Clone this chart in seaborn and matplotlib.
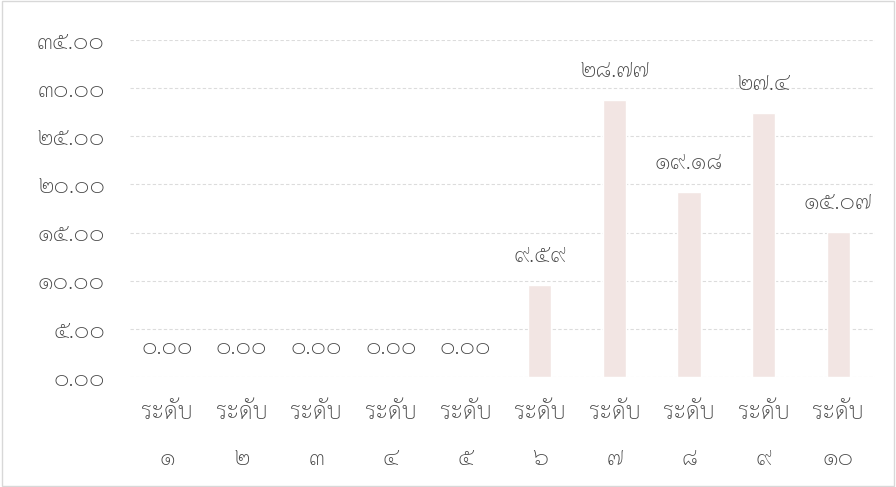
import matplotlib
matplotlib.use("Agg")
import matplotlib.pyplot as plt
import seaborn as sns
import pandas as pd

categories = ["ระดับ\n๑", "ระดับ\n๒", "ระดับ\n๓", "ระดับ\n๔", "ระดับ\n๕",
              "ระดับ\n๖", "ระดับ\n๗", "ระดับ\n๘", "ระดับ\n๙", "ระดับ\n๑๐"]
values = [0.0, 0.0, 0.0, 0.0, 0.0, 9.59, 28.77, 19.18, 27.4, 15.07]
value_labels = ["๐.๐๐", "๐.๐๐", "๐.๐๐", "๐.๐๐", "๐.๐๐",
                "๙.๕๙", "๒๘.๗๗", "๑๙.๑๘", "๒๗.๔", "๑๕.๐๗"]
y_ticks = [0, 5, 10, 15, 20, 25, 30, 35]
y_tick_labels = ["๐.๐๐", "๕.๐๐", "๑๐.๐๐", "๑๕.๐๐", "๒๐.๐๐", "๒๕.๐๐", "๓๐.๐๐", "๓๕.๐๐"]

sns.set_theme(style="white")
plt.rcParams["font.family"] = ["Sarabun", "Loma", "DejaVu Sans"]
plt.rcParams["font.weight"] = "light"

df = pd.DataFrame({"cat": categories, "val": values})

fig = plt.figure(figsize=(8.96, 4.87), dpi=100)
ax = fig.add_axes([0.145, 0.226, 0.832, 0.692])
sns.barplot(data=df, x="cat", y="val", color="#f4e3e1", width=0.31, ax=ax, zorder=2)

ax.set_ylim(0, 35)
ax.set_yticks(y_ticks)
ax.set_yticklabels(y_tick_labels)
ax.set_xlabel("")
ax.set_ylabel("")
ax.yaxis.grid(True, color="#dcdcdc", linestyle=(0, (3, 2)), linewidth=0.8, zorder=0)
ax.set_axisbelow(True)
for s in ax.spines.values():
    s.set_visible(False)
ax.tick_params(axis="both", length=0, colors="#444444", labelsize=17)
ax.tick_params(axis="y", pad=18)
ax.tick_params(axis="x", pad=18)
for lbl in ax.get_xticklabels():
    lbl.set_linespacing(2.3)

for i, (v, t) in enumerate(zip(values, value_labels)):
    ax.annotate(t, (i, v), xytext=(0, 21), textcoords="offset points",
                ha="center", va="center", fontsize=17, color="#444444")

fig.patches.append(plt.Rectangle((0.002, 0.003), 0.996, 0.994, transform=fig.transFigure,
                                 fill=False, edgecolor="#d8d8d8", linewidth=1))
fig.savefig("out.png", dpi=100, facecolor="white")
